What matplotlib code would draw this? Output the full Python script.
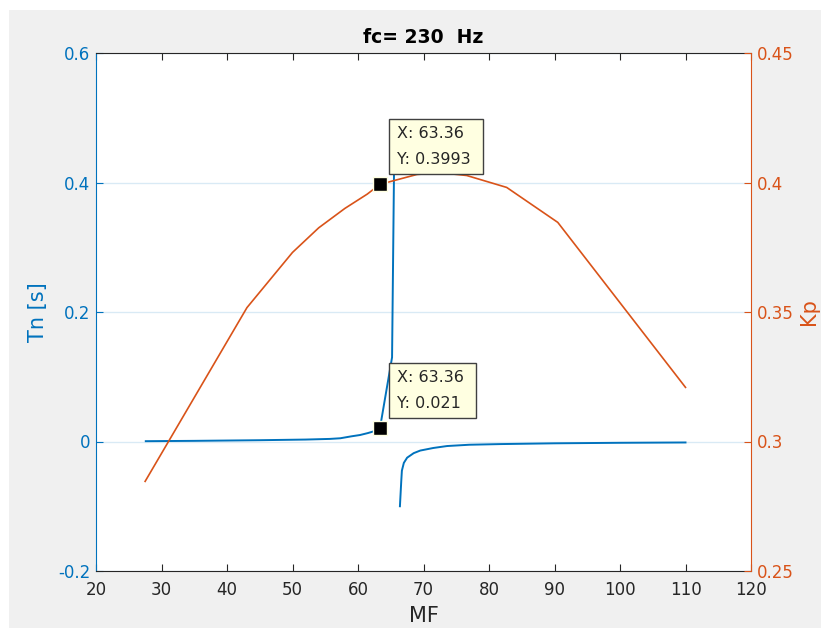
import matplotlib
matplotlib.use("Agg")
import matplotlib.pyplot as plt
from matplotlib.patches import Rectangle

plt.rcParams['font.family'] = ['DejaVu Sans']

BLUE = '#0072BD'
ORANGE = '#D95319'
DARK = '#262626'

# Tn [s] versus MF, two branches either side of the pole
mf_tn_low = [27.6, 35.0, 45.0, 52.0, 55.7, 57.3, 59.0, 60.3, 61.5, 62.5, 63.36, 65.2, 65.5]
tn_low = [0.0005, 0.001, 0.002, 0.003, 0.004, 0.005, 0.008, 0.010, 0.013, 0.016, 0.021, 0.13, 0.418]
mf_tn_high = [66.4, 66.6, 66.7, 67.0, 67.5, 68.5, 69.5, 71.5, 73.6, 77.0, 81.7, 90.0, 100.0, 110.0]
tn_high = [-0.100, -0.062, -0.045, -0.033, -0.025, -0.018, -0.014, -0.010, -0.007, -0.005, -0.004, -0.0028, -0.002, -0.0015]

# Kp versus MF
mf_kp = [27.5, 43.05, 50.0, 54.0, 58.0, 61.4, 63.36, 69.0, 72.5, 76.6, 82.7, 90.5, 110.0]
kp = [0.2846, 0.3517, 0.3730, 0.3825, 0.3900, 0.3955, 0.3993, 0.4031, 0.4038, 0.4027, 0.3981, 0.3846, 0.3209]

# Data tips
tip_x = 63.36
tip_kp = 0.3993
tip_tn = 0.021

xticks = [20, 30, 40, 50, 60, 70, 80, 90, 100, 110, 120]
tn_ticks = [-0.2, 0, 0.2, 0.4, 0.6]
tn_ticklabels = ['-0.2', '0', '0.2', '0.4', '0.6']
kp_ticks = [0.25, 0.3, 0.35, 0.4, 0.45]
kp_ticklabels = ['0.25', '0.3', '0.35', '0.4', '0.45']

fig = plt.figure(figsize=(8.21, 6.28), dpi=100, facecolor='white')
fig.patches.append(Rectangle((9 / 821, -0.1), 2, 1.1 - 10 / 628, transform=fig.transFigure,
                             facecolor='#f0f0f0', edgecolor='none', zorder=-10))

ax = fig.add_axes([96 / 821, 1 - 571 / 628, (751 - 96) / 821, (571 - 53) / 628])
ax.set_facecolor('white')
ax2 = ax.twinx()

ax.plot(mf_tn_low, tn_low, color=BLUE, lw=1.4)
ax.plot(mf_tn_high, tn_high, color=BLUE, lw=1.4)
ax2.plot(mf_kp, kp, color=ORANGE, lw=1.2)

ax.set_xlim(20, 120)
ax.set_ylim(-0.2, 0.6)
ax2.set_ylim(0.25, 0.45)

ax.set_xticks(xticks)
ax.set_xticklabels([str(v) for v in xticks])
ax.set_yticks(tn_ticks)
ax.set_yticklabels(tn_ticklabels)
ax2.set_yticks(kp_ticks)
ax2.set_yticklabels(kp_ticklabels)

ax.yaxis.grid(True, color=BLUE, alpha=0.15, lw=1.0)
ax.set_axisbelow(True)

ax.tick_params(axis='x', direction='in', top=True, length=5, width=0.8,
               colors=DARK, labelsize=12, pad=7)
ax.tick_params(axis='y', direction='in', length=5, width=0.8,
               colors=BLUE, labelsize=12, pad=4)
ax2.tick_params(axis='y', direction='in', length=5, width=0.8,
                colors=ORANGE, labelsize=12, pad=4)

for s in ('top', 'bottom'):
    ax.spines[s].set_color(DARK)
    ax.spines[s].set_linewidth(0.8)
ax.spines['left'].set_color(BLUE)
ax.spines['left'].set_linewidth(0.8)
ax.spines['right'].set_visible(False)
for s in ('top', 'bottom', 'left'):
    ax2.spines[s].set_visible(False)
ax2.spines['right'].set_color(ORANGE)
ax2.spines['right'].set_linewidth(0.8)

ax.set_xlabel('MF', fontsize=15, color=DARK, labelpad=5)
ax.set_ylabel('Tn [s]', fontsize=15, color=BLUE, labelpad=7)
ax2.set_ylabel('Kp', fontsize=15, color=ORANGE, rotation=90, labelpad=4)
ax.set_title('fc= 230  Hz', fontsize=13.5, fontweight='bold', color='black', pad=7)

# Data tip markers and boxes
tip_style = dict(boxstyle='square,pad=0.45', facecolor='#ffffe1', edgecolor='#404040', lw=1.0)
ax2.plot([tip_x], [tip_kp], marker='s', ms=10, color='black', mec='#ffffe1', mew=1, zorder=5)
ax2.plot([tip_x], [tip_tn], transform=ax.transData, marker='s', ms=10, color='black',
         mec='#ffffe1', mew=1, zorder=5)
ax2.annotate('X: %.2f\nY: %.4f ' % (tip_x, tip_kp), xy=(tip_x, tip_kp), xycoords='data',
             xytext=(12, 12.5), textcoords='offset points', ha='left', va='bottom',
             fontsize=11.5, color=DARK, bbox=tip_style, zorder=6, linespacing=1.9)
ax2.annotate('X: %.2f \nY: %.3f' % (tip_x, tip_tn), xy=(tip_x, tip_tn), xycoords=ax.transData,
             xytext=(12, 12.5), textcoords='offset points', ha='left', va='bottom',
             fontsize=11.5, color=DARK, bbox=tip_style, zorder=6, linespacing=1.9)

fig.savefig('out.png', dpi=100, facecolor=fig.get_facecolor())
